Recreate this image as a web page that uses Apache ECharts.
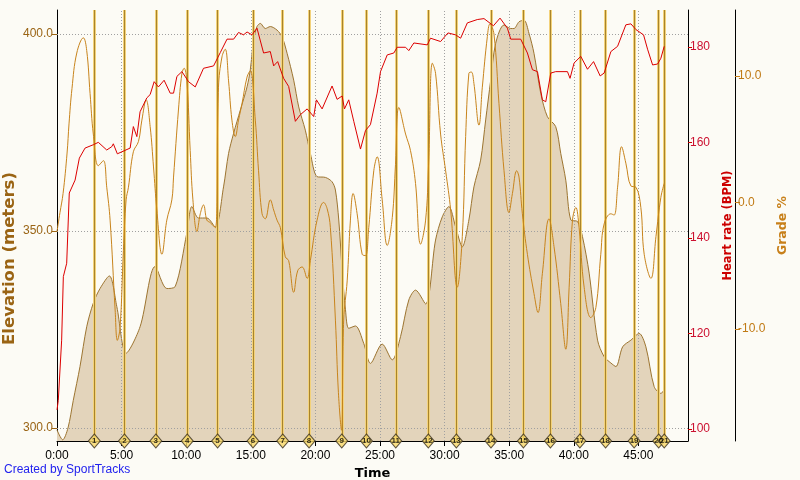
<!DOCTYPE html>
<html><head><meta charset="utf-8">
<script src="https://cdn.jsdelivr.net/npm/echarts@6/dist/echarts.min.js"></script>
<style>html,body{margin:0;padding:0;background:#fcfbf5;}#c{width:800px;height:480px;}</style>
</head><body><div id="c"></div>
<script>
// Time in minutes
const elevTime = [0,0.44,0.85,1.26,1.78,2.30,2.81,3.33,4.05,4.63,5.35,6.43,7.60,8.50,9.15,10.05,10.44,10.95,11.60,12.25,12.89,13.28,13.67,14.19,14.71,14.96,15.22,15.48,15.74,16.12,16.51,17.03,17.42,17.81,18.32,18.71,19.22,19.61,20.13,20.78,21.29,21.55,21.81,22.07,22.33,22.58,23.10,23.74,24.26,25.17,25.95,26.59,27.23,27.75,28.53,29.30,29.82,30.33,30.85,31.37,31.88,32.27,32.79,33.18,33.57,33.95,34.60,35.12,35.37,35.76,36.15,36.53,36.92,37.44,37.96,38.60,38.99,39.38,39.77,40.29,40.67,41.19,41.84,42.35,42.87,43.26,43.78,44.42,45.06,45.58,46.22,46.74,47.00];
const elevValue = [299.5,297,300,307,315.6,325.7,331.7,335.4,338.6,330.8,319,325.7,341,335.4,335.9,349.5,356.2,353.3,353.3,351,361.2,369.7,374.8,380.7,386.6,390.9,398.5,401.9,402.7,401.4,401.9,401,399.3,395.1,388.3,381.5,375.6,369.7,363.8,363.6,362.5,360.4,352.8,340.1,330,325.3,325.9,321.5,316.4,321.3,317.3,323.2,332.5,335,331.5,347.7,353.6,356.2,351.1,346,352.8,361.2,368,378.2,388.3,397.6,402.3,401.4,401.4,403.1,403.5,400.2,395.1,385,379,376.5,369.7,362.9,352.8,352.4,348.6,339.3,322.3,318.1,316.5,315.6,320.6,322.3,324,320.6,310.5,308.8,309.6];

const hrTime = [0,0.10,0.36,0.49,0.75,0.95,1.40,1.73,2.17,2.81,3.20,3.85,4.24,4.36,4.67,5.66,5.91,6.18,6.43,6.95,7.21,7.52,7.85,8.29,8.76,9.02,9.28,9.67,10.18,10.70,11.34,12.12,12.64,13.16,13.67,14.05,14.44,14.71,15.09,15.48,15.99,16.51,16.77,17.08,17.54,17.93,18.45,18.84,19.36,19.87,20.08,20.52,21.29,21.68,22.07,22.25,22.58,22.97,23.49,23.88,24.26,24.78,25.04,25.56,26.07,26.33,26.98,27.23,27.62,28.66,28.91,29.69,30.26,30.85,31.24,31.76,32.53,33.05,33.78,34.29,34.86,35.12,35.89,36.41,36.80,37.19,37.57,37.83,38.22,38.60,39.51,39.71,40.02,40.54,41.06,41.53,42.04,42.35,42.87,43.39,44.03,44.42,44.81,45.40,45.71,46.10,46.49,46.74,47.00];
const hrValue = [104,106,118.6,131.9,134.7,149.4,152.1,156.7,158.8,159.5,160,158.4,159.1,159.7,157.6,158.8,163.3,161.2,166.4,169.3,170,172.7,171.6,173,170.3,170.3,173.8,174.8,172.7,171.6,175.5,176,178.8,181.6,181.6,183,182.5,183.1,182.5,183.9,178.7,179,176,176.9,173.4,171.7,164.4,165.8,167,165.4,168.9,167,171.8,169,169.7,167,168.9,164.4,158.6,162.5,163.7,170.3,174.8,178.3,178.7,179.9,179.9,179.2,180.8,180.4,181.8,181.1,182.9,182.5,181.8,185,185.7,185.9,184.4,186,183.9,181.6,181.6,178.7,175.2,174.8,168.9,168.5,174.5,174.8,174.8,173.4,176.6,178,175.3,176.9,173.9,174.5,179,180.1,184.6,184.8,183.6,182.5,179.5,176.2,176.4,177.6,180.1];

const gradeTime = [0,0.23,0.47,0.78,0.93,1.16,1.53,2.04,2.30,2.56,2.81,3.20,3.59,3.85,4.11,4.50,4.67,4.88,5.14,5.35,5.53,5.91,6.30,6.57,6.90,7.21,7.47,7.73,8.12,8.50,8.89,9.02,9.40,9.67,9.84,10.05,10.31,10.52,10.83,11.09,11.34,11.60,11.86,12.25,12.50,12.77,13.02,13.28,13.54,13.80,14.05,14.32,14.71,14.96,15.35,15.60,15.87,16.12,16.51,16.77,17.03,17.29,17.67,17.93,18.32,18.63,18.97,19.36,19.61,20.13,20.64,20.91,21.16,21.55,21.78,22.02,22.19,22.46,22.71,22.92,23.23,23.62,23.88,24.13,24.52,24.78,25.17,25.56,25.95,26.20,26.46,26.98,27.36,27.75,28.14,28.53,28.76,29.05,29.30,29.69,30.08,30.47,30.98,31.37,31.63,31.88,32.07,32.27,32.66,32.92,33.31,33.51,33.82,34.21,34.60,34.98,35.25,35.58,35.76,36.02,36.41,36.92,37.23,37.57,38.08,38.47,38.99,39.38,39.64,39.90,40.16,40.41,40.80,41.32,41.71,42.09,42.35,42.87,43.12,43.39,43.70,44.03,44.42,44.81,45.19,45.45,45.97,46.36,46.74,47.00];
const gradeValue = [-2.3,-0.8,0.7,3.9,6.2,9,11.8,13.0,12,8.6,5.4,2.9,3.3,1.2,-1.4,-8.5,-10.9,-9.9,-3.8,0.2,1.2,4,4.8,6.5,8.1,6,2.8,-0.6,-4.1,-1.4,0.2,2,7.3,10.2,10.6,9.6,4.1,0.2,-2.3,-0.9,-0.2,-1.4,-1.6,-2.0,9.1,11.5,12.1,9.6,6.5,5.2,6.5,7.8,9.9,10.4,6.5,2.5,-0.9,-1.3,0.2,-0.6,-1.4,-2,-4.3,-4.6,-7.1,-5.4,-5.1,-6,-4.6,-1.4,0,-0.5,-2,-9.3,-15,-18,-9.3,-6.2,-1.4,0.7,-0.9,-4.1,-4.2,-2,2.5,3.6,0.2,-3.4,-1.2,3,7.5,5.4,4.1,1.5,-3.3,-1.4,3,11,10.2,5.4,2.5,-0.6,-6.7,-2.7,5.2,10.2,10.3,9.4,6.1,9.1,13.1,14.1,13.3,7.8,2.5,-0.8,0.7,2.5,2,-0.9,-4.1,-7.2,-8.7,-5.6,-1.3,-3.5,-8,-11.6,-6.7,-1.4,-0.4,-2,-6.7,-9.1,-8.3,-4.1,-1.7,-0.9,-1,1.2,4.4,3.1,1.3,1.2,-0.4,-4.1,-6,-2.7,0.4,1.5];

const lapTime = [2.89,5.22,7.65,10.08,12.43,15.17,17.47,19.51,22.04,23.95,26.22,28.74,30.91,33.59,36.10,38.19,40.47,42.46,44.67,46.57,47.0];
const lapLabel = ['1','2','3','4','5','6','7','8','9','10','11','12','13','14','15','16','17','18','19','20','21'];

const xTicks = [0,5,10,15,20,25,30,35,40,45];
const elevTicks = [300,350,400];
const hrTicks = [100,120,140,160,180];
const gradeTicks = [-10,0,10];

const zip = (a,b) => a.map((t,i)=>[t,b[i]]);
const ELEV_MIN = 296.7, ELEV_MAX = 406.1;

const chart = echarts.init(document.getElementById('c'));
const lapLines = [];
lapTime.forEach(t => {
  lapLines.push({xAxis: t, lineStyle: {color: '#f3d27a', width: 3, type: 'solid'}});
  lapLines.push({xAxis: t, lineStyle: {color: '#a8842c', width: 1, type: 'solid'}});
});
const gridLines = xTicks.slice(1).map(v => ({xAxis: v})).concat(elevTicks.map(v => ({yAxis: v})));

chart.setOption({
  backgroundColor: '#fcfbf5',
  animation: false,
  textStyle: {fontFamily: 'Liberation Sans'},
  grid: {left: 57, right: 112, top: 10, bottom: 39, containLabel: false, outerBoundsMode: 'none'},
  xAxis: {
    type: 'value', min: 0, max: 48.84, interval: 5,
    name: 'Time', nameLocation: 'middle', nameGap: 21,
    nameTextStyle: {fontFamily: 'DejaVu Sans', fontWeight: 'bold', fontSize: 13, color: '#000'},
    axisLine: {show: true, onZero: false, lineStyle: {color: '#000', width: 1}},
    axisTick: {show: true, length: 5, lineStyle: {color: '#000'}, customValues: xTicks},
    axisLabel: {color: '#000', fontSize: 12, margin: 9, customValues: xTicks,
      formatter: v => Math.round(v) + ':00'},
    splitLine: {show: false}
  },
  yAxis: [
    {
      type: 'value', min: ELEV_MIN, max: ELEV_MAX, position: 'left',
      name: 'Elevation (meters)', nameLocation: 'middle', nameGap: 39, nameRotate: 90, nameMoveOverlap: false,
      nameTextStyle: {fontFamily: 'DejaVu Sans', fontWeight: 'bold', fontSize: 16.5, color: '#9a6414', padding: [0, 66, 0, 0]},
      axisLine: {show: true, onZero: false, lineStyle: {color: '#000'}},
      axisTick: {show: true, length: 5, lineStyle: {color: '#9a6414'}, customValues: elevTicks},
      axisLabel: {color: '#9a6414', fontSize: 12, margin: 4, customValues: elevTicks, formatter: v => v.toFixed(1)},
      splitLine: {show: false}
    },
    {
      type: 'value', min: 97.5, max: 187.7, position: 'right',
      name: 'Heart rate (BPM)', nameLocation: 'middle', nameGap: 34, nameRotate: 90,
      nameTextStyle: {fontFamily: 'DejaVu Sans', fontWeight: 'bold', fontSize: 11.5, color: '#cc0000'},
      axisLine: {show: true, onZero: false, lineStyle: {color: '#000'}},
      axisTick: {show: true, length: 4, lineStyle: {color: '#cc0000'}, customValues: hrTicks},
      axisLabel: {color: '#cc1030', fontSize: 12, margin: 2, customValues: hrTicks},
      splitLine: {show: false}
    },
    {
      type: 'value', min: -18.85, max: 15.2, position: 'right', offset: 47,
      name: 'Grade %', nameLocation: 'middle', nameGap: 40, nameRotate: 90,
      nameTextStyle: {fontFamily: 'DejaVu Sans', fontWeight: 'bold', fontSize: 12.5, color: '#c8801a'},
      axisLine: {show: true, onZero: false, lineStyle: {color: '#000'}},
      axisTick: {show: true, length: 5, lineStyle: {color: '#c8801a'}, customValues: gradeTicks},
      axisLabel: {color: '#c07a14', fontSize: 12, margin: 3, customValues: gradeTicks, formatter: v => v.toFixed(1)},
      splitLine: {show: false}
    }
  ],
  series: [
    {
      name: 'Elevation', type: 'line', yAxisIndex: 0, z: 1,
      data: zip(elevTime, elevValue), smooth: 0.3, symbol: 'none',
      lineStyle: {color: '#9c7430', width: 1},
      areaStyle: {color: '#e3d4bb', opacity: 1, origin: 'start'},
      markLine: {silent: true, symbol: 'none', label: {show: false}, z: 3, animation: false,
        lineStyle: {color: '#a0a0a0', width: 1, type: [1, 2]}, data: gridLines}
    },
    {
      name: 'Laps', type: 'line', yAxisIndex: 0, z: 4, data: [], symbol: 'none',
      markLine: {silent: true, symbol: 'none', label: {show: false}, z: 4, animation: false, data: lapLines}
    },
    {
      name: 'Grade', type: 'line', yAxisIndex: 2, z: 6,
      data: zip(gradeTime, gradeValue), smooth: 0.4, symbol: 'none',
      lineStyle: {color: '#c8841c', width: 1}
    },
    {
      name: 'Heart rate', type: 'line', yAxisIndex: 1, z: 7,
      data: zip(hrTime, hrValue), symbol: 'none',
      lineStyle: {color: '#dd0000', width: 1}
    },
    {
      name: 'LapMarks', type: 'scatter', yAxisIndex: 0, z: 8, clip: false,
      data: lapTime.map((t, i) => ({value: [t, ELEV_MIN], name: lapLabel[i]})),
      symbol: 'diamond', symbolSize: [12, 14],
      itemStyle: {color: '#f8d868', borderColor: '#3a3020', borderWidth: 1},
      label: {show: true, position: 'inside', formatter: p => p.name,
        fontSize: 8, fontWeight: 'bold', color: '#000', fontFamily: 'Liberation Sans'}
    }
  ],
  graphic: [
    {type: 'text', left: 4, top: 464, style: {text: 'Created by SportTracks', fill: '#2222ee', font: '12px "Liberation Sans"'}}
  ]
});
</script></body></html>
